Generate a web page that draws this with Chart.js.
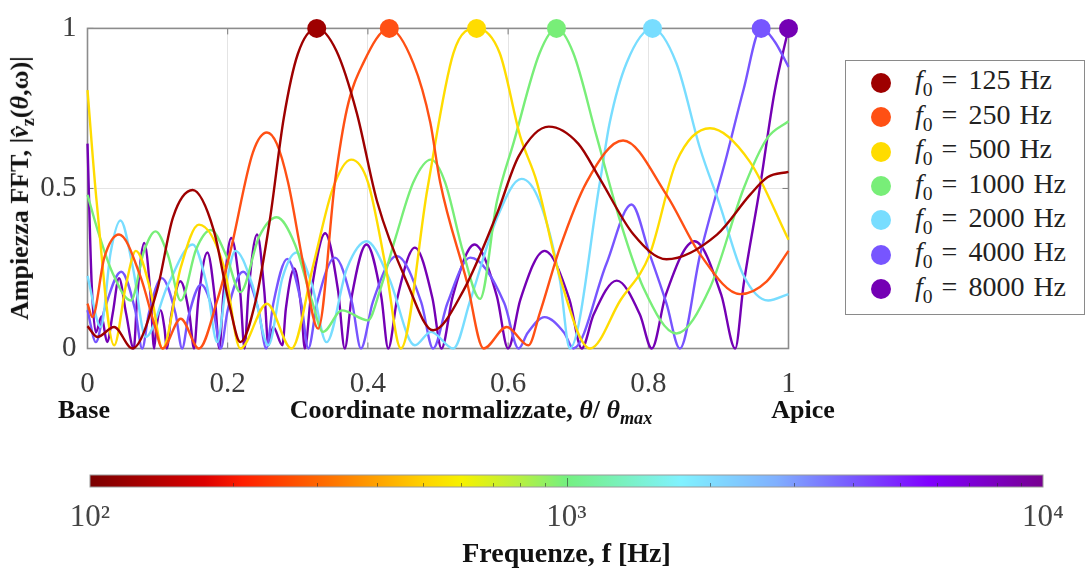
<!DOCTYPE html>
<html>
<head>
<meta charset="utf-8">
<script src="https://cdn.jsdelivr.net/npm/chart.js@4.4.1/dist/chart.umd.min.js"></script>
<style>
  html, body { margin: 0; padding: 0; background: #fff; }
  body { width: 1087px; height: 572px; position: relative; overflow: hidden;
         font-family: "Liberation Serif", "DejaVu Serif", serif; }
  #main { position: absolute; left: 0; top: 0; }
  #cbar { position: absolute; left: 0; top: 440px; }
  .lbl { position: absolute; font-weight: bold; font-size: 26px; color: #111;
         white-space: nowrap; transform: translate(-50%, -50%); }
  #ytitle { left: 22px; top: 188px; transform: translate(-50%, -50%) rotate(-90deg); }
  .legend { position: absolute; left: 845px; top: 60px; width: 240px; height: 255px;
            border: 1px solid #8a8a8a; box-sizing: border-box; background: #fff; }
  .legend .row { position: absolute; left: 0; height: 34px; display: flex; align-items: center; }
  .legend .dot { width: 20px; height: 20px; border-radius: 50%; margin-left: 25px; margin-right: 24px; }
  .legend .txt { font-size: 28px; color: #222; white-space: nowrap; }
  .legend .eq { margin: 0 11px 0 9px; }
  .legend .unit { margin-left: 9px; }
  .legend sub { font-size: 0.7em; }
</style>
</head>
<body>
<canvas id="main" width="1087" height="420"></canvas>
<canvas id="cbar" width="1087" height="132"></canvas>

<div class="lbl" id="ytitle">Ampiezza FFT, |<i>v̂</i><sub style="font-size:0.7em">z</sub>(<i>θ</i>,ω)|</div>
<div class="lbl" style="left:84px; top:410px;">Base</div>
<div class="lbl" style="left:471px; top:412px;">Coordinate normalizzate, <i>θ</i>/ <i>θ</i><sub style="font-size:0.7em"><i>max</i></sub></div>
<div class="lbl" style="left:803px; top:410px;">Apice</div>
<div class="legend" id="legend"></div>

<script>
// ---------- Dati: [θ/θmax, ampiezza] per ogni frequenza ----------
const F125 = [[0, 0.07], [0.014, 0.036], [0.038, 0.067], [0.064, 0.0], [0.099, 0.18], [0.122, 0.41],
  [0.15, 0.495], [0.18, 0.37], [0.203, 0.13], [0.218, 0.02], [0.24, 0.15], [0.26, 0.40], [0.28, 0.72],
  [0.30, 0.92], [0.327, 1], [0.355, 0.93], [0.384, 0.737], [0.413, 0.46], [0.455, 0.21], [0.493, 0.057],
  [0.536, 0.18], [0.584, 0.42], [0.615, 0.60], [0.658, 0.693], [0.70, 0.64], [0.731, 0.53], [0.779, 0.356],
  [0.826, 0.279], [0.898, 0.356], [0.945, 0.48], [0.97, 0.535], [1, 0.552]];

const F250 = [[0, 0.14], [0.007, 0.098], [0.024, 0.284], [0.045, 0.356], [0.076, 0.222], [0.095, 0.078],
  [0.107, 0.0], [0.133, 0.093], [0.159, 0.0], [0.185, 0.15], [0.204, 0.305], [0.236, 0.613], [0.256, 0.675],
  [0.27, 0.64], [0.286, 0.52], [0.308, 0.263], [0.329, 0.062], [0.353, 0.52], [0.37, 0.747], [0.393, 0.89],
  [0.4305, 1], [0.465, 0.89], [0.489, 0.706], [0.503, 0.52], [0.541, 0.21], [0.565, 0.0], [0.598, 0.067],
  [0.629, 0.01], [0.645, 0.109], [0.674, 0.315], [0.712, 0.52], [0.764, 0.65], [0.826, 0.48], [0.874, 0.294],
  [0.931, 0.17], [0.969, 0.21], [1, 0.305]];

const F500 = [[0, 0.807], [0.013, 0.46], [0.038, 0.01], [0.055, 0.2], [0.069, 0.305], [0.09, 0.18],
  [0.107, 0.0], [0.133, 0.253], [0.159, 0.387], [0.195, 0.253], [0.218, 0.0], [0.256, 0.14], [0.291, 0.0],
  [0.322, 0.26], [0.35, 0.5], [0.376, 0.59], [0.40, 0.52], [0.425, 0.26], [0.447, 0.0], [0.485, 0.5],
  [0.522, 0.923], [0.555, 1], [0.588, 0.923], [0.617, 0.665], [0.641, 0.52], [0.674, 0.222], [0.717, 0.0],
  [0.76, 0.15], [0.802, 0.294], [0.84, 0.583], [0.888, 0.688], [0.945, 0.583], [1, 0.34]];

const F1000 = [[0, 0.48], [0.015, 0.366], [0.035, 0.24], [0.062, 0.15], [0.08, 0.3], [0.097, 0.366],
  [0.115, 0.29], [0.133, 0.15], [0.155, 0.31], [0.176, 0.37], [0.198, 0.29], [0.218, 0.176], [0.245, 0.35],
  [0.27, 0.41], [0.296, 0.325], [0.32, 0.15], [0.336, 0.052], [0.363, 0.119], [0.40, 0.088], [0.417, 0.18],
  [0.44, 0.35], [0.465, 0.52], [0.49, 0.59], [0.51, 0.52], [0.536, 0.30], [0.56, 0.155], [0.584, 0.459],
  [0.608, 0.644], [0.645, 0.923], [0.669, 1], [0.693, 0.923], [0.726, 0.665], [0.76, 0.397], [0.793, 0.19],
  [0.84, 0.047], [0.888, 0.19], [0.936, 0.5], [0.969, 0.655], [1, 0.71]];

const F2000 = [[0, 0.227], [0.019, 0.067], [0.033, 0.3], [0.047, 0.40], [0.065, 0.25], [0.083, 0.036],
  [0.115, 0.2], [0.15, 0.325], [0.17, 0.2], [0.185, 0.02], [0.198, 0.2], [0.211, 0.305], [0.235, 0.2],
  [0.258, 0.01], [0.278, 0.22], [0.298, 0.30], [0.32, 0.2], [0.341, 0.02], [0.37, 0.25], [0.398, 0.335],
  [0.43, 0.22], [0.467, 0.01], [0.49, 0.052], [0.522, 0.0], [0.546, 0.15], [0.584, 0.407], [0.619, 0.53],
  [0.645, 0.459], [0.674, 0.212], [0.688, 0.0], [0.731, 0.52], [0.745, 0.706], [0.769, 0.892], [0.806, 1],
  [0.84, 0.892], [0.874, 0.624], [0.902, 0.449], [0.935, 0.232], [0.971, 0.15], [1, 0.17]];

const F4000 = [[0, 0.12], [0.012, 0.02], [0.024, 0.12], [0.048, 0.24], [0.068, 0.12], [0.078, 0.0],
  [0.0875, 0.11], [0.106, 0.22], [0.1255, 0.11], [0.135, 0.0], [0.144, 0.1], [0.162, 0.2], [0.181, 0.1],
  [0.19, 0.0], [0.2, 0.12], [0.222, 0.24], [0.244, 0.12], [0.255, 0.0], [0.265, 0.14], [0.285, 0.28],
  [0.305, 0.14], [0.315, 0.0], [0.3275, 0.142], [0.353, 0.284], [0.3775, 0.142], [0.39, 0.0],
  [0.407, 0.145], [0.441, 0.289], [0.476, 0.145], [0.493, 0.0], [0.5135, 0.142], [0.546, 0.284],
  [0.5945, 0.142], [0.615, 0.0], [0.628, 0.049], [0.652, 0.098], [0.68, 0.049], [0.693, 0.0],
  [0.74, 0.263], [0.776, 0.45], [0.802, 0.294], [0.826, 0.14], [0.845, 0.0], [0.874, 0.294],
  [0.912, 0.603], [0.936, 0.81], [0.961, 1], [0.98, 0.96], [1, 0.88]];

const F8000 = [[0, 0.64], [0.006, 0.2], [0.012, 0.05], [0.02, 0.1], [0.028, 0.02], [0.036, 0.11],
  [0.045, 0.22], [0.055, 0.11], [0.066, 0.0], [0.071, 0.165], [0.081, 0.33], [0.09, 0.165], [0.095, 0.0],
  [0.098, 0.06], [0.104, 0.12], [0.11, 0.06], [0.113, 0.0], [0.1195, 0.105], [0.1325, 0.21], [0.1455, 0.105],
  [0.152, 0.0], [0.158, 0.15], [0.171, 0.30], [0.182, 0.15], [0.188, 0.0], [0.194, 0.172], [0.205, 0.345],
  [0.218, 0.172], [0.224, 0.0], [0.2297, 0.178], [0.242, 0.356], [0.2523, 0.178], [0.258, 0.01],
  [0.265, 0.067], [0.278, 0.01], [0.283, 0.125], [0.295, 0.25], [0.305, 0.125], [0.31, 0.0],
  [0.3195, 0.18], [0.339, 0.36], [0.3575, 0.18], [0.367, 0.0], [0.377, 0.163], [0.398, 0.325],
  [0.419, 0.163], [0.429, 0.0], [0.442, 0.158], [0.467, 0.315], [0.492, 0.158], [0.505, 0.0],
  [0.521, 0.163], [0.552, 0.325], [0.584, 0.163], [0.60, 0.0], [0.6175, 0.153], [0.652, 0.305],
  [0.6875, 0.153], [0.705, 0.0], [0.722, 0.106], [0.755, 0.212], [0.788, 0.106], [0.805, 0.0],
  [0.825, 0.168], [0.866, 0.335], [0.904, 0.168], [0.924, 0.0], [0.936, 0.2], [0.959, 0.5],
  [0.98, 0.8], [1, 1]];

const FREQS = [125, 250, 500, 1000, 2000, 4000, 8000];
const SERIES = [F125, F250, F500, F1000, F2000, F4000, F8000];
const COLORS = ["#9e0000", "#ff5014", "#ffdc00", "#78ee78", "#78ddff", "#7755ff", "#7400b4"];

// barra colori (scala logaritmica delle frequenze)
const CBAR_TICKS = [100, 200, 300, 400, 500, 600, 700, 800, 900, 1000,
  2000, 3000, 4000, 5000, 6000, 7000, 8000, 9000, 10000];
const CBAR_LABELS = { 100: "10²", 1000: "10³", 10000: "10⁴" };
const CMAP = [[0, "#7a0000"], [0.12, "#dc0000"], [0.16, "#ff1e00"], [0.25, "#ff7000"], [0.35, "#ffd200"],
  [0.39, "#f6f200"], [0.45, "#b8f040"], [0.5, "#74f080"], [0.62, "#80f2ff"], [0.72, "#80b0ff"],
  [0.8, "#7858ff"], [0.88, "#8000ff"], [1, "#780090"]];

const SERIF = "'Liberation Serif', 'DejaVu Serif', serif";

// ---------- Legenda ----------
const legendEl = document.getElementById("legend");
legendEl.innerHTML = FREQS.map((f, i) => `
  <div class="row" style="top:${4.7 + 34.4 * i}px">
    <span class="dot" style="background:${COLORS[i]}"></span>
    <span class="txt"><i>f</i><sub>0</sub><span class="eq">=</span>${f}<span class="unit">Hz</span></span>
  </div>`).join("");

// ---------- Cornice e tacche interne ----------
const framePlugin = {
  id: "frame",
  beforeDatasetsDraw(chart) {
    const { ctx, chartArea: a, scales: { x, y } } = chart;
    const seg = (x1, y1, x2, y2) => { ctx.beginPath(); ctx.moveTo(x1, y1); ctx.lineTo(x2, y2); ctx.stroke(); };
    ctx.save();
    ctx.strokeStyle = "#7a7a7a";
    ctx.lineWidth = 1;
    x.ticks.forEach((t) => {
      const px = x.getPixelForValue(t.value);
      seg(px, a.top, px, a.top + 6);
      seg(px, a.bottom, px, a.bottom - 6);
    });
    y.ticks.forEach((t) => {
      const py = y.getPixelForValue(t.value);
      seg(a.left, py, a.left + 6, py);
      seg(a.right, py, a.right - 6, py);
    });
    ctx.strokeStyle = "#8c8c8c";
    ctx.lineWidth = 1.6;
    ctx.strokeRect(a.left, a.top, a.right - a.left, a.bottom - a.top);
    ctx.restore();
  },
};

new Chart(document.getElementById("main"), {
  type: "scatter",
  data: {
    datasets: SERIES.map((s, i) => ({
      label: `f0 = ${FREQS[i]} Hz`,
      data: s.map(([x, y]) => ({ x, y })),
      showLine: true,
      cubicInterpolationMode: "monotone",
      borderColor: COLORS[i],
      backgroundColor: COLORS[i],
      borderWidth: 2.4,
      pointRadius: (c) => (c.raw && c.raw.y === 1 ? 9.5 : 0),
      pointBorderWidth: 0,
      pointBackgroundColor: COLORS[i],
      clip: false,
    })),
  },
  options: {
    responsive: false,
    animation: false,
    events: [],
    layout: { padding: { left: 0, top: 25, right: 298.5, bottom: 0 } },
    plugins: { legend: { display: false }, tooltip: { enabled: false } },
    scales: {
      x: {
        type: "linear", min: 0, max: 1,
        afterFit: (s) => { s.height = 71.5; },
        grid: { color: "#e4e4e4", drawTicks: false },
        border: { display: false },
        ticks: {
          stepSize: 0.2, padding: 18, color: "#3c3c3c",
          font: { family: SERIF, size: 29 },
          callback: (v) => (v === 0 || v === 1 ? String(v) : v.toFixed(1)),
        },
      },
      y: {
        min: 0, max: 1,
        afterFit: (s) => { s.width = 87.5; },
        grid: { color: "#e4e4e4", drawTicks: false },
        border: { display: false },
        ticks: {
          stepSize: 0.5, padding: 11, color: "#3c3c3c",
          font: { family: SERIF, size: 29 },
          callback: (v) => (v === 0.5 ? "0.5" : String(v)),
        },
      },
    },
  },
  plugins: [framePlugin],
});

// ---------- Barra colori ----------
const colorbarPlugin = {
  id: "colorbar",
  beforeDatasetsDraw(chart) {
    const { ctx, chartArea: a, scales: { x } } = chart;
    const grad = ctx.createLinearGradient(a.left, 0, a.right, 0);
    CMAP.forEach(([p, c]) => grad.addColorStop(p, c));
    ctx.save();
    ctx.fillStyle = grad;
    ctx.fillRect(a.left, a.top, a.right - a.left, a.bottom - a.top);
    ctx.strokeStyle = "rgba(40,40,40,0.55)";
    ctx.lineWidth = 1;
    CBAR_TICKS.slice(1, -1).forEach((v) => {
      const px = Math.round(x.getPixelForValue(v)) + 0.5;
      const len = v === 1000 ? 9 : 4;
      ctx.beginPath();
      ctx.moveTo(px, a.bottom);
      ctx.lineTo(px, a.bottom - len);
      ctx.stroke();
    });
    ctx.strokeStyle = "#9a9a9a";
    ctx.strokeRect(a.left, a.top, a.right - a.left, a.bottom - a.top);
    ctx.restore();
  },
};

new Chart(document.getElementById("cbar"), {
  type: "scatter",
  data: { datasets: [{ data: [] }] },
  options: {
    responsive: false,
    animation: false,
    events: [],
    layout: { padding: { left: 90, right: 44, top: 35, bottom: 0 } },
    plugins: { legend: { display: false }, tooltip: { enabled: false } },
    scales: {
      x: {
        type: "logarithmic", min: 100, max: 10000,
        afterBuildTicks: (s) => { s.ticks = CBAR_TICKS.map((v) => ({ value: v })); },
        afterFit: (s) => { s.height = 85; },
        grid: { display: false },
        border: { display: false },
        ticks: {
          autoSkip: false, maxRotation: 0, padding: 4, color: "#444",
          font: { family: SERIF, size: 31 },
          callback: (v) => CBAR_LABELS[v] || "",
        },
        title: {
          display: true, text: "Frequenze, f [Hz]", color: "#111",
          font: { family: SERIF, size: 28, weight: "bold" },
          padding: { top: 12, bottom: 0 },
        },
      },
      y: { display: false, min: 0, max: 1 },
    },
  },
  plugins: [colorbarPlugin],
});
</script>
</body>
</html>
